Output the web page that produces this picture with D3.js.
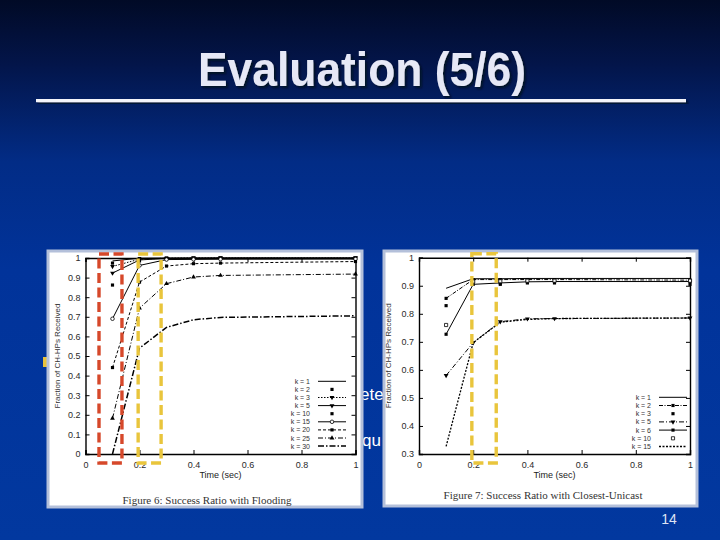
<!DOCTYPE html>
<html><head><meta charset="utf-8">
<script src="https://cdn.jsdelivr.net/npm/d3@7"></script>
<style>html,body{margin:0;padding:0;background:#00339a;} svg{display:block}</style>
</head><body><svg id="s" width="720" height="540"></svg>
<script>
// ---------------- data ----------------
const timeX = [0.1, 0.2, 0.3, 0.4, 0.5, 1.0];
const xTicks = [0, 0.2, 0.4, 0.6, 0.8, 1];
const xTickLabels = ["0", "0.2", "0.4", "0.6", "0.8", "1"];

const floodLabels = ["k = 1", "k = 2", "k = 3", "k = 5", "k = 10", "k = 15", "k = 20", "k = 25", "k = 30"];
const floodValues = [
  [0.985, 0.999, 1.000, 1.000, 1.000, 1.000],
  [0.974, 0.997, 1.000, 1.000, 1.000, 1.000],
  [0.957, 0.994, 0.999, 1.000, 1.000, 1.000],
  [0.923, 0.990, 0.998, 0.999, 1.000, 1.000],
  [0.862, 0.985, 0.996, 0.997, 0.998, 0.998],
  [0.690, 0.962, 0.992, 0.993, 0.994, 0.995],
  [0.441, 0.877, 0.959, 0.971, 0.974, 0.982],
  [0.182, 0.744, 0.869, 0.903, 0.911, 0.918],
  [0.000, 0.540, 0.646, 0.685, 0.697, 0.705]
];
const floodYTicks = [0, 0.1, 0.2, 0.3, 0.4, 0.5, 0.6, 0.7, 0.8, 0.9, 1];
const floodYTickLabels = ["0", "0.1", "0.2", "0.3", "0.4", "0.5", "0.6", "0.7", "0.8", "0.9", "1"];

const unicastLabels = ["k = 1", "k = 2", "k = 3", "k = 5", "k = 6", "k = 10", "k = 15"];
const unicastValues = [
  [0.891, 0.925, 0.925, 0.926, 0.926, 0.926],
  [0.855, 0.922, 0.922, 0.922, 0.922, 0.920],
  [0.829, 0.917, 0.905, 0.910, 0.910, 0.905],
  [0.580, 0.697, 0.772, 0.782, 0.783, 0.785],
  [0.727, 0.905, 0.910, 0.914, 0.915, 0.915],
  [0.760, 0.915, 0.916, 0.918, 0.918, 0.918],
  [0.327, 0.697, 0.770, 0.780, 0.783, 0.785]
];
const unicastYTicks = [0.3, 0.4, 0.5, 0.6, 0.7, 0.8, 0.9, 1];
const unicastYTickLabels = ["0.3", "0.4", "0.5", "0.6", "0.7", "0.8", "0.9", "1"];

// highlighted time windows [from, to]
const floodRedWindow = [0.05, 0.135];
const floodYellowWindow = [0.195, 0.28];
const unicastYellowWindow = [0.195, 0.285];

// ---------------- styles ----------------
const floodStyles = [
  {line: true, dash: null, w: 1, sym: null},
  {line: false, sym: "square"},
  {line: true, dash: "1.5,1.5", w: 1, sym: "tri-down"},
  {line: true, dash: null, w: 1, sym: "tri-down"},
  {line: false, sym: "square"},
  {line: true, dash: null, w: 1, sym: "circle-open"},
  {line: true, dash: "3,2", w: 1, sym: "square"},
  {line: true, dash: "5,2,1,2", w: 1, sym: "tri"},
  {line: true, dash: "6,2,1.5,2", w: 1.5, sym: null}
];
const unicastStyles = [
  {line: true, dash: null, w: 1, sym: null},
  {line: true, dash: "4,1.5,1,1.5", w: 1, sym: "square"},
  {line: false, sym: "square"},
  {line: true, dash: "5,2,1,2", w: 1, sym: "tri-down"},
  {line: true, dash: null, w: 1, sym: "square"},
  {line: false, sym: "square-open"},
  {line: true, dash: "2,1.5", w: 1.3, sym: null}
];

const svg = d3.select("#s");
const defs = svg.append("defs");
const bg = defs.append("linearGradient").attr("id", "bg").attr("x1", 0).attr("y1", 0).attr("x2", 0).attr("y2", 1);
[[0, "#010a26"], [0.12, "#03154a"], [0.3, "#022c86"], [0.5, "#01339a"], [1, "#02389f"]].forEach(s =>
  bg.append("stop").attr("offset", s[0]).attr("stop-color", s[1]));
const sh = defs.append("filter").attr("id", "shadow").attr("x", "-10%").attr("y", "-30%").attr("width", "120%").attr("height", "160%");
sh.append("feDropShadow").attr("dx", 2).attr("dy", 2).attr("stdDeviation", 0.8)
  .attr("flood-color", "#000818").attr("flood-opacity", 0.8);
svg.append("rect").attr("width", 720).attr("height", 540).attr("fill", "url(#bg)");

// title
svg.append("text").attr("x", 362).attr("y", 86).attr("text-anchor", "middle")
  .attr("font-family", "Liberation Sans, Arial, sans-serif").attr("font-weight", "bold")
  .attr("font-size", 49).attr("fill", "#e6e8f6").attr("textLength", 328).attr("lengthAdjust", "spacingAndGlyphs")
  .attr("filter", "url(#shadow)")
  .text("Evaluation (5/6)");
svg.append("rect").attr("x", 36).attr("y", 99).attr("width", 650).attr("height", 3.2).attr("fill", "#f4f4fa")
  .attr("filter", "url(#shadow)");

// slide bullet and text behind the figures
svg.append("rect").attr("x", 43).attr("y", 357).attr("width", 8).attr("height", 10).attr("fill", "#e8c23c");
svg.append("text").attr("x", 360).attr("y", 400).attr("font-family", "Liberation Sans, Arial, sans-serif")
  .attr("font-size", 17).attr("fill", "#ffffff").text("ete");
svg.append("text").attr("x", 362).attr("y", 446).attr("font-family", "Liberation Sans, Arial, sans-serif")
  .attr("font-size", 17).attr("fill", "#ffffff").text("qu");

function symbolPath(type, size) {
  switch (type) {
    case "square": case "square-open": return d3.symbol(d3.symbolSquare, size)();
    case "tri": return d3.symbol(d3.symbolTriangle, size)();
    case "tri-down": return d3.symbol(d3.symbolTriangle, size)();
    case "circle-open": return d3.symbol(d3.symbolCircle, size)();
  }
  return null;
}

function drawChart(cfg) {
  const g = svg.append("g");
  // panel
  g.append("rect").attr("x", cfg.panel[0]).attr("y", cfg.panel[1]).attr("width", cfg.panel[2]).attr("height", cfg.panel[3])
    .attr("fill", "#ffffff").attr("stroke", "#b4c0da").attr("stroke-width", 3);
  const x = d3.scaleLinear().domain([0, 1]).range([cfg.plot[0], cfg.plot[1]]);
  const y = d3.scaleLinear().domain(cfg.yDomain).range([cfg.plot[3], cfg.plot[2]]);
  const font = "Liberation Sans, Arial, Helvetica, sans-serif";

  // axes (gnuplot style: inward ticks, mirrored)
  const tl = 4;
  const ax = [
    d3.axisBottom(x).tickValues(xTicks).tickSize(-tl).tickFormat((d, i) => xTickLabels[i]),
    d3.axisTop(x).tickValues(xTicks).tickSize(-tl).tickFormat(""),
    d3.axisLeft(y).tickValues(cfg.yTicks).tickSize(-tl).tickFormat((d, i) => cfg.yTickLabels[i]),
    d3.axisRight(y).tickValues(cfg.yTicks).tickSize(-tl).tickFormat("")
  ];
  const pos = [[0, cfg.plot[3]], [0, cfg.plot[2]], [cfg.plot[0], 0], [cfg.plot[1], 0]];
  ax.forEach((a, i) => {
    const ag = g.append("g").attr("transform", `translate(${pos[i][0]},${pos[i][1]})`).call(a);
    ag.select(".domain").attr("stroke", "#000").attr("stroke-width", 1.4);
    ag.selectAll(".tick line").attr("stroke", "#000").attr("stroke-width", 1);
    ag.selectAll(".tick text").attr("font-family", font).attr("font-size", 9).attr("fill", "#2a2a2a");
    if (i === 0) ag.selectAll(".tick text").attr("dy", "1.2em");
    if (i === 2) ag.selectAll(".tick text").attr("x", -5);
  });

  // axis titles and caption
  g.append("text").attr("x", (cfg.plot[0] + cfg.plot[1]) / 2).attr("y", cfg.plot[3] + 24).attr("text-anchor", "middle")
    .attr("font-family", font).attr("font-size", 9).attr("fill", "#222").text("Time (sec)");
  g.append("text").attr("transform", `translate(${cfg.yLabelX},${(cfg.plot[2] + cfg.plot[3]) / 2}) rotate(-90)`)
    .attr("text-anchor", "middle").attr("font-family", font).attr("font-size", 8).attr("fill", "#333").text(cfg.yLabel);
  g.append("text").attr("x", cfg.captionX).attr("y", cfg.captionY).attr("text-anchor", "middle")
    .attr("font-family", "Liberation Serif, Times New Roman, serif").attr("font-size", 11).attr("fill", "#333")
    .text(cfg.caption);

  // series
  const line = d3.line().x((d, i) => x(timeX[i])).y(d => y(d));
  cfg.values.forEach((vals, si) => {
    const st = cfg.styles[si];
    if (st.line) {
      g.append("path").attr("d", line(vals)).attr("fill", "none").attr("stroke", "#000")
        .attr("stroke-width", st.w).attr("stroke-dasharray", st.dash);
    }
    if (st.sym) {
      vals.forEach((v, i) => {
        const open = st.sym.endsWith("open");
        g.append("path").attr("d", symbolPath(st.sym, 10))
          .attr("transform", `translate(${x(timeX[i])},${y(v)})` + (st.sym === "tri-down" ? " rotate(180)" : ""))
          .attr("fill", open ? "#fff" : "#000").attr("stroke", "#000").attr("stroke-width", open ? 0.8 : 0);
      });
    }
  });

  // legend
  cfg.labels.forEach((lab, i) => {
    const ly = cfg.legend[1] + i * cfg.legend[2];
    const st = cfg.styles[i];
    g.append("text").attr("x", cfg.legend[0]).attr("y", ly + 2.5).attr("text-anchor", "end")
      .attr("font-family", font).attr("font-size", 7).attr("fill", "#333").text(lab);
    const sx0 = cfg.legend[0] + 8, sx1 = cfg.legend[0] + 36;
    if (st.line) {
      g.append("line").attr("x1", sx0).attr("x2", sx1).attr("y1", ly).attr("y2", ly).attr("stroke", "#000")
        .attr("stroke-width", st.w).attr("stroke-dasharray", st.dash);
    }
    if (st.sym) {
      const open = st.sym.endsWith("open");
      g.append("path").attr("d", symbolPath(st.sym, 10))
        .attr("transform", `translate(${(sx0 + sx1) / 2},${ly})` + (st.sym === "tri-down" ? " rotate(180)" : ""))
        .attr("fill", open ? "#fff" : "#000").attr("stroke", "#000").attr("stroke-width", open ? 0.8 : 0);
    }
  });

  // highlighted windows
  cfg.windows.forEach(w => {
    g.append("rect").attr("x", x(w.range[0])).attr("y", cfg.plot[2] - 4)
      .attr("width", x(w.range[1]) - x(w.range[0])).attr("height", cfg.plot[3] - cfg.plot[2] + 13)
      .attr("fill", "none").attr("stroke", w.color).attr("stroke-width", 3.4).attr("stroke-dasharray", "10,4.5");
  });
}

drawChart({
  panel: [48, 251, 314, 256],
  plot: [85.5, 355.5, 258, 454],
  yDomain: [0, 1], yTicks: floodYTicks, yTickLabels: floodYTickLabels,
  yLabel: "Fraction of CH-HPs Received", yLabelX: 60,
  caption: "Figure 6: Success Ratio with Flooding", captionX: 207, captionY: 504,
  values: floodValues, labels: floodLabels, styles: floodStyles,
  legend: [310, 381.3, 8.1],
  windows: [{range: floodRedWindow, color: "#d6482a"}, {range: floodYellowWindow, color: "#e9c53c"}]
});
drawChart({
  panel: [384, 251, 313, 255],
  plot: [419, 690, 257.7, 454],
  yDomain: [0.3, 1], yTicks: unicastYTicks, yTickLabels: unicastYTickLabels,
  yLabel: "Fraction of CH-HPs Received", yLabelX: 391,
  caption: "Figure 7: Success Ratio with Closest-Unicast", captionX: 543, captionY: 499,
  values: unicastValues, labels: unicastLabels, styles: unicastStyles,
  legend: [651, 397.3, 8.2],
  windows: [{range: unicastYellowWindow, color: "#e9c53c"}]
});

svg.append("text").attr("x", 669).attr("y", 524).attr("text-anchor", "middle")
  .attr("font-family", "Liberation Sans, Arial, sans-serif").attr("font-size", 14).attr("fill", "#dfe4f4").text("14");
</script></body></html>
